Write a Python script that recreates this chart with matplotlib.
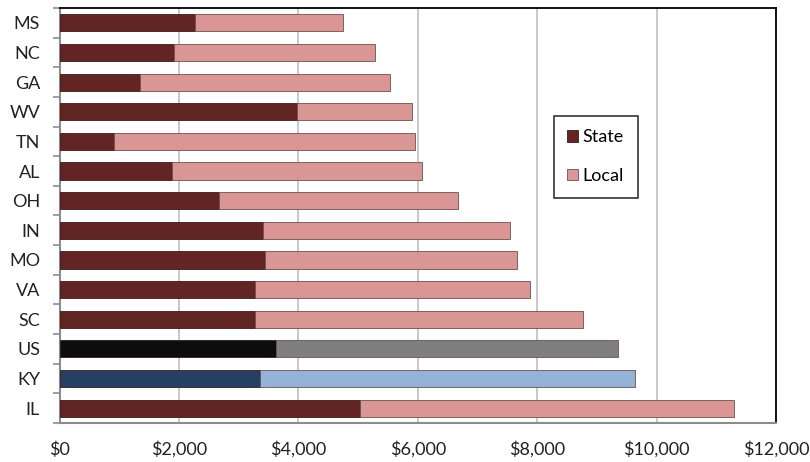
import numpy as np
import matplotlib.pyplot as plt
from matplotlib.ticker import FuncFormatter, FixedLocator

plt.rcParams['font.family'] = ['Lato', 'DejaVu Sans']

states = ['MS', 'NC', 'GA', 'WV', 'TN', 'AL', 'OH', 'IN', 'MO', 'VA', 'SC', 'US', 'KY', 'IL']
state_part = [2263, 1916, 1353, 3980, 917, 1878, 2675, 3400, 3434, 3267, 3272, 3629, 3361, 5029]
total = [4756, 5292, 5531, 5910, 5960, 6067, 6670, 7550, 7668, 7880, 8767, 9347, 9644, 11294]
local_part = [t - s for t, s in zip(total, state_part)]

dark = {'US': '#0d0d0d', 'KY': '#254061'}
light = {'US': '#7f7f7f', 'KY': '#95b3d7'}
state_colors = [dark.get(s, '#632523') for s in states]
local_colors = [light.get(s, '#d99694') for s in states]

fig = plt.figure(figsize=(8.1, 4.62), dpi=100)
ax = fig.add_axes([0.0735, 0.0844, 0.958 - 0.0735, 0.9827 - 0.0844])

y = np.arange(len(states))
ax.barh(y, state_part, height=0.58, color=state_colors, edgecolor='#3a1a1a', linewidth=0.6,
        label='State', zorder=3)
ax.barh(y, local_part, left=state_part, height=0.58, color=local_colors, edgecolor='#6e5050',
        linewidth=0.6, label='Local', zorder=3)

ax.set_ylim(len(states) - 0.5, -0.5)
ax.set_xlim(0, 12000)
ax.set_xticks(np.arange(0, 12001, 2000))
ax.xaxis.set_major_formatter(FuncFormatter(lambda v, p: '${:,.0f}'.format(v)))
ax.tick_params(axis='x', length=0, pad=13, labelsize=13, colors='#222222')
ax.grid(axis='x', color='#bfbfbf', linewidth=1.2, zorder=0)

ax.set_yticks(y)
ax.set_yticklabels(states)
ax.yaxis.set_minor_locator(FixedLocator(np.arange(-0.5, len(states), 1.0)))
ax.tick_params(axis='y', which='major', length=0, pad=14, labelsize=13, colors='#222222')
ax.tick_params(axis='y', which='minor', length=5, width=1.2, color='#8c8c8c')

ax.spines['left'].set_color('#8c8c8c')
ax.spines['bottom'].set_color('#8c8c8c')
ax.spines['left'].set_linewidth(1.5)
ax.spines['bottom'].set_linewidth(1.5)
ax.spines['top'].set_color('black')
ax.spines['right'].set_color('black')
ax.spines['top'].set_linewidth(1.3)
ax.spines['right'].set_linewidth(1.3)

leg = ax.legend(loc='upper left', bbox_to_anchor=(0.69, 0.74), frameon=True, fancybox=False,
                edgecolor='black', fontsize=13, handlelength=0.6, handleheight=0.6,
                handletextpad=0.25, labelspacing=1.25, borderpad=0.75, borderaxespad=0)
leg.get_frame().set_linewidth(1.2)

fig.savefig('out.png', dpi=100)
